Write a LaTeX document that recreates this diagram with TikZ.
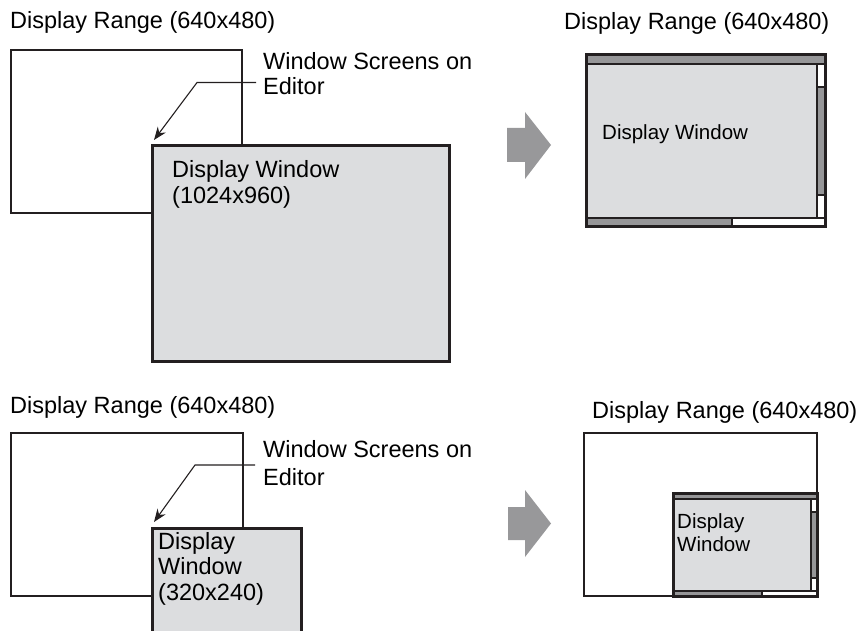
\documentclass[tikz,border=0pt]{standalone}
\usepackage{fontspec}
\setmainfont{Liberation Sans}
\usetikzlibrary{arrows.meta,positioning}
\definecolor{linec}{RGB}{35,31,32}
\definecolor{winfill}{RGB}{220,221,223}
\definecolor{barc}{RGB}{150,150,152}
\definecolor{arrowc}{RGB}{152,152,154}

\begin{document}
\begin{tikzpicture}[
    x=1pt, y=-1pt,
    % estilos de textos y marcos
    txt/.style={inner sep=0pt, anchor=base west, align=left, font=\fontsize{23.5}{26}\selectfont},
    txtsmall/.style={txt, font=\fontsize{20.5}{23}\selectfont},
    rngbox/.style={draw=linec, line width=2.6pt},
    winbox/.style={draw=linec, line width=3pt, fill=winfill},
    winframe/.style={draw=linec, line width=3pt},
    bar/.style={draw=linec, line width=1.6pt, fill=barc},
    slot/.style={draw=linec, line width=1.6pt, fill=white},
    leader/.style={-{Stealth[length=13pt, width=10pt]}, line width=1.1pt, draw=linec},
    bigarrow/.style={fill=arrowc}
  ]
  \useasboundingbox (0,0) rectangle (861,631);

  % ---------------- Arriba izquierda ---------------- %
  \node[txt] (rngTL) at (10,29) {Display Range (640x480)};
  \draw[rngbox] (11,50) rectangle (242,213);
  \draw[winbox] (152,146) rectangle (449,361);
  \node[txt] (winTL) at (172,204) {Display Window\\(1024x960)};
  \node[txt, font=\fontsize{23.5}{25}\selectfont] (scrTL) at (263,95) {Window Screens on\\Editor};
  \coordinate (bendTL) at (197,82.5);
  \coordinate (tipTL) at (154,140);
  \draw[leader] ([xshift=-7pt]bendTL -| scrTL.west) -- (bendTL) -- (tipTL);

  % Flecha de paso
  \fill[bigarrow] (507,128) -- (525,128) -- (525,112) -- (551,145) -- (525,179) -- (525,162) -- (507,162) -- cycle;

  % ---------------- Arriba derecha ---------------- %
  \node[txt] (rngTR) at (564,30) {Display Range (640x480)};
  \fill[winfill] (586,64) rectangle (817,218);
  \draw[bar] (586,55) rectangle (825,64);
  \draw[slot] (817,64) rectangle (825,218);
  \draw[bar] (817,87) rectangle (825,195);
  \draw[slot] (586,218) rectangle (825,226);
  \draw[bar] (586,218) rectangle (732,226);
  \draw[winframe] (586,55) rectangle (825,226);
  \node[txtsmall] (winTR) at (602,140) {Display Window};

  % ---------------- Abajo izquierda ---------------- %
  \node[txt] (rngBL) at (10,413) {Display Range (640x480)};
  \draw[rngbox] (11,433) rectangle (243,596);
  \fill[winfill] (152,528) rectangle (301,631);
  \draw[winframe] (152,631) |- (301,528) -- (301,631);
  \node[txt, font=\fontsize{23.5}{25.5}\selectfont] (winBL) at (158,600) {Display\\Window\\(320x240)};
  \node[txt, font=\fontsize{23.5}{28}\selectfont] (scrBL) at (263,485) {Window Screens on\\Editor};
  \coordinate (bendBL) at (195,465);
  \coordinate (tipBL) at (154,522);
  \draw[leader] ([xshift=-8pt]bendBL -| scrBL.west) -- (bendBL) -- (tipBL);

  % Flecha de paso
  \fill[bigarrow] (508,507) -- (525,507) -- (525,490) -- (551,523.5) -- (525,557) -- (525,540) -- (508,540) -- cycle;

  % ---------------- Abajo derecha ---------------- %
  \node[txt] (rngBR) at (592,418) {Display Range (640x480)};
  \draw[rngbox] (584,433) rectangle (817,596);
  \fill[winfill] (673,499) rectangle (811,591);
  \draw[bar] (673,493) rectangle (817,499);
  \draw[slot] (811,499) rectangle (817,591);
  \draw[bar] (811,512) rectangle (817,578);
  \draw[slot] (673,591) rectangle (817,596);
  \draw[bar] (673,591) rectangle (762,596);
  \draw[winframe] (673,493) rectangle (817,596);
  \node[txtsmall] (winBR) at (677,551) {Display\\Window};
\end{tikzpicture}
\end{document}
